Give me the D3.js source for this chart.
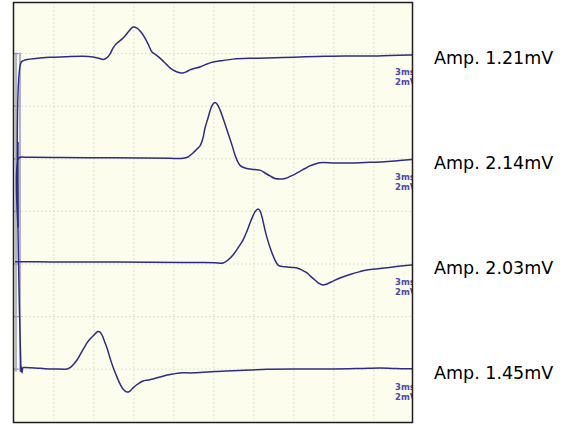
<!DOCTYPE html>
<html>
<head>
  <meta charset="utf-8">
  <script src="https://d3js.org/d3.v7.min.js"></script>
  <style>
    body { margin: 0; background: #fff; }
  </style>
</head>
<body>
  <svg width="572" height="425"></svg>

  <script>
    // time in ms, amplitude in mV (relative to each channel's zero line)
    const trace1Ms = [0.525, 0.525, 0.75, 1.2, 1.95, 2.7, 3.825, 5.175, 5.925, 6.45, 6.675, 6.975, 7.2, 7.425, 7.725, 8.025, 8.325, 8.625, 8.925, 9.225, 9.525, 9.825, 10.125, 10.35, 10.65, 10.95, 11.25, 11.475, 11.775, 12.075, 12.375, 12.675, 12.975, 13.2, 13.575, 13.95, 14.4, 14.925, 15.675, 16.425, 17.7, 18.975, 20.175, 21.45, 22.725, 23.925, 25.2, 26.475, 28.2, 29.85];
    const trace1MV = [-12.11, -0.34, -0.26, -0.21, -0.17, -0.14, -0.12, -0.10, -0.13, -0.19, -0.22, -0.15, -0.02, 0.21, 0.40, 0.52, 0.67, 0.86, 1.01, 0.97, 0.82, 0.59, 0.29, 0.06, -0.05, -0.17, -0.32, -0.43, -0.57, -0.66, -0.72, -0.74, -0.68, -0.62, -0.56, -0.51, -0.41, -0.32, -0.26, -0.21, -0.18, -0.17, -0.15, -0.13, -0.11, -0.10, -0.09, -0.09, -0.07, -0.05];

    const trace2Ms = [0.3, 0.3, 0.375, 0.825, 1.425, 3.45, 6.45, 9.45, 11.7, 12.675, 13.05, 13.425, 13.725, 13.95, 14.175, 14.325, 14.55, 14.775, 14.925, 15.075, 15.225, 15.45, 15.675, 15.9, 16.125, 16.35, 16.575, 16.725, 16.95, 17.325, 17.7, 18.075, 18.45, 18.825, 19.2, 19.575, 19.95, 20.325, 20.7, 21.075, 21.45, 21.825, 22.2, 22.575, 22.95, 24.075, 25.2, 26.325, 27.45, 28.575, 29.85];
    const trace2MV = [0.64, -2.59, 0.03, 0.06, 0.06, 0.05, 0.04, 0.03, 0.02, 0.02, 0.07, 0.22, 0.37, 0.49, 0.79, 1.17, 1.55, 1.93, 2.08, 2.14, 2.08, 1.86, 1.55, 1.21, 0.87, 0.52, 0.14, -0.05, -0.25, -0.35, -0.39, -0.41, -0.43, -0.54, -0.65, -0.75, -0.77, -0.75, -0.67, -0.58, -0.48, -0.37, -0.27, -0.20, -0.15, -0.16, -0.16, -0.14, -0.12, -0.08, -0.03];

    const trace3Ms = [0.075, 2.7, 6.45, 10.2, 12.675, 13.95, 15.075, 15.675, 16.05, 16.425, 16.8, 17.175, 17.475, 17.7, 17.925, 18.075, 18.3, 18.45, 18.6, 18.825, 19.05, 19.35, 19.575, 19.8, 20.175, 20.475, 20.85, 21.225, 21.6, 21.975, 22.275, 22.575, 22.875, 23.175, 23.475, 23.925, 24.45, 25.2, 25.95, 26.475, 27.45, 28.425, 29.85];
    const trace3MV = [0.09, 0.08, 0.08, 0.07, 0.06, 0.06, 0.05, 0.04, 0.15, 0.34, 0.61, 0.91, 1.25, 1.56, 1.83, 1.98, 2.09, 2.02, 1.79, 1.29, 0.87, 0.42, 0.15, -0.04, -0.10, -0.11, -0.13, -0.15, -0.23, -0.34, -0.48, -0.61, -0.74, -0.80, -0.76, -0.65, -0.53, -0.40, -0.29, -0.23, -0.17, -0.11, -0.04];

    const trace4Ms = [0.525, 0.6, 0.675, 0.825, 1.575, 2.325, 3.075, 3.975, 4.2, 4.425, 4.725, 4.95, 5.25, 5.475, 5.7, 5.925, 6.15, 6.3, 6.45, 6.6, 6.75, 6.975, 7.2, 7.425, 7.725, 7.95, 8.175, 8.475, 8.7, 8.925, 9.3, 9.675, 10.05, 10.425, 10.95, 11.475, 11.925, 12.45, 13.2, 13.95, 15.075, 16.425, 17.7, 18.975, 21.45, 23.925, 25.95, 27.45, 28.575, 29.85];
    const trace4MV = [0.12, -0.14, 0.06, 0.06, 0.05, 0.02, 0.01, 0.01, 0.06, 0.16, 0.35, 0.54, 0.81, 1.00, 1.15, 1.26, 1.38, 1.43, 1.41, 1.30, 1.11, 0.81, 0.43, 0.08, -0.30, -0.56, -0.75, -0.87, -0.83, -0.71, -0.56, -0.45, -0.41, -0.37, -0.30, -0.22, -0.18, -0.14, -0.14, -0.13, -0.09, -0.06, -0.03, 0.00, 0.01, 0.01, 0.03, 0.05, 0.03, 0.02];

    const ampLabels = ["Amp. 1.21mV", "Amp. 2.14mV", "Amp. 2.03mV", "Amp. 1.45mV"];
    const zeroDivs = [1, 3, 5, 7];          // grid line used as each channel's zero
    const scaleLabels = ["3ms", "2mV"];
    const msPerDiv = 3, mvPerDiv = 2;
    const artifactMs = [0.15, 0.45];         // faint stimulus artefact lines

    const svg = d3.select("svg");
    const x = d3.scaleLinear().domain([0, 30]).range([14, 414]);
    const yDiv = d3.scaleLinear().domain([0, 8]).range([1, 421.8]);

    const box = { x0: 13.5, x1: 412.5, y0: 2.5, y1: 422.5 };

    svg.append("defs").append("clipPath").attr("id", "clip")
      .append("rect")
      .attr("x", box.x0).attr("y", box.y0)
      .attr("width", box.x1 - box.x0).attr("height", box.y1 - box.y0);

    svg.append("rect")
      .attr("x", box.x0).attr("y", box.y0)
      .attr("width", box.x1 - box.x0).attr("height", box.y1 - box.y0)
      .attr("fill", "#fdfdee");

    const plot = svg.append("g").attr("clip-path", "url(#clip)");

    // dotted grid
    plot.selectAll(".vgrid")
      .data(d3.range(msPerDiv, 30, msPerDiv))
      .enter().append("line")
      .attr("x1", d => x(d)).attr("x2", d => x(d))
      .attr("y1", box.y0).attr("y2", box.y1)
      .attr("stroke", "#c2c2b4").attr("stroke-width", 1)
      .attr("stroke-dasharray", "1,3");

    plot.selectAll(".hgrid")
      .data(d3.range(1, 8))
      .enter().append("line")
      .attr("x1", box.x0).attr("x2", box.x1)
      .attr("y1", d => yDiv(d)).attr("y2", d => yDiv(d))
      .attr("stroke", "#c2c2b4").attr("stroke-width", 1)
      .attr("stroke-dasharray", "1,3");

    // small marks on the left edge
    plot.selectAll(".lmark")
      .data(d3.range(1, 8))
      .enter().append("line")
      .attr("x1", box.x0).attr("x2", box.x0 + 5)
      .attr("y1", d => yDiv(d)).attr("y2", d => yDiv(d))
      .attr("stroke", "#8a8a9a").attr("stroke-width", 1.2);

    // stimulus artefact
    plot.selectAll(".artefact")
      .data(artifactMs)
      .enter().append("line")
      .attr("x1", d => x(d)).attr("x2", d => x(d))
      .attr("y1", yDiv(0.98)).attr("y2", yDiv(7.05))
      .attr("stroke", "#a9a9cf").attr("stroke-width", 1.8);

    const traces = [
      [trace1Ms, trace1MV],
      [trace2Ms, trace2MV],
      [trace3Ms, trace3MV],
      [trace4Ms, trace4MV]
    ];

    traces.forEach(([ms, mv], i) => {
      const pts = ms.map((t, j) => [t, mv[j]]);
      plot.append("path")
        .datum(pts)
        .attr("d", d3.line()
          .x(d => x(d[0]))
          .y(d => yDiv(zeroDivs[i] - d[1] / mvPerDiv))
          .curve(d3.curveCatmullRom.alpha(0.5)))
        .attr("fill", "none")
        .attr("stroke", "#2c2c86")
        .attr("stroke-width", 1.5)
        .attr("stroke-linejoin", "round");

      // sensitivity labels, clipped by the frame
      plot.selectAll(null)
        .data(scaleLabels)
        .enter().append("text")
        .attr("x", 395)
        .attr("y", (d, k) => yDiv(zeroDivs[i]) + 21 + k * 10)
        .attr("font-family", "DejaVu Sans, sans-serif")
        .attr("font-size", 8.5)
        .attr("font-weight", "bold")
        .attr("fill", "#4a4aa8")
        .text(d => d);
    });

    // frame
    svg.append("rect")
      .attr("x", box.x0).attr("y", box.y0)
      .attr("width", box.x1 - box.x0).attr("height", box.y1 - box.y0)
      .attr("fill", "none")
      .attr("stroke", "#1e1e1e").attr("stroke-width", 1.5);

    // amplitude annotations
    svg.selectAll(".amp")
      .data(ampLabels)
      .enter().append("text")
      .attr("x", 434)
      .attr("y", (d, i) => yDiv(zeroDivs[i]) + 4)
      .attr("dominant-baseline", "central")
      .attr("font-family", "DejaVu Sans, sans-serif")
      .attr("font-size", 17.5)
      .attr("fill", "#000")
      .text(d => d);
  </script>
</body>
</html>
